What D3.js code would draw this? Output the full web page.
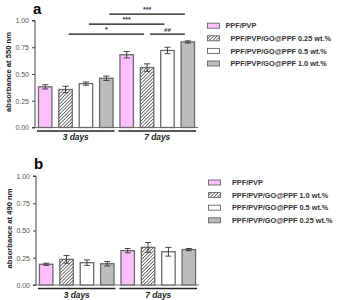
<!DOCTYPE html>
<html>
<head>
<meta charset="utf-8">
<script src="https://cdn.jsdelivr.net/npm/d3@7"></script>
<style>
  body { margin: 0; background: #fff; }
  svg { display: block; font-family: "Liberation Sans", Arial, sans-serif; }
</style>
</head>
<body>
<div id="chart"></div>
<script>
var days = ["3 days", "7 days"];
var yTicks = [0, 0.25, 0.5, 0.75, 1.0];

// panel a
var seriesA = ["PPF/PVP", "PPF/PVP/GO@PPF 0.25 wt.%", "PPF/PVP/GO@PPF 0.5 wt.%", "PPF/PVP/GO@PPF 1.0 wt.%"];
var meansA = [[0.38, 0.355, 0.41, 0.46], [0.68, 0.56, 0.72, 0.80]];
var errA = [[0.02, 0.03, 0.015, 0.02], [0.03, 0.035, 0.03, 0.01]];
// significance brackets: [day, series] -> [day, series]
var sigFrom = [[0, 1], [0, 2], [0, 3], [1, 1]];
var sigTo = [[1, 1], [1, 2], [1, 3], [1, 3]];
var sigLabel = ["*", "***", "***", "##"];
var sigRow = [0, 1, 2, 0];

// panel b
var seriesB = ["PPF/PVP", "PPF/PVP/GO@PPF 1.0 wt.%", "PPF/PVP/GO@PPF 0.5 wt.%", "PPF/PVP/GO@PPF 0.25 wt.%"];
var meansB = [[0.19, 0.235, 0.205, 0.195], [0.315, 0.345, 0.305, 0.325]];
var errB = [[0.01, 0.035, 0.025, 0.02], [0.02, 0.045, 0.04, 0.01]];

var fills = ["#ffbfff", "url(#hatch)", "#ffffff", "#bcbcbc"];

var svg = d3.select("#chart").append("svg")
  .attr("width", 340)
  .attr("height", 300);

var defs = svg.append("defs");
var pat = defs.append("pattern")
  .attr("id", "hatch")
  .attr("patternUnits", "userSpaceOnUse")
  .attr("width", 2.4)
  .attr("height", 2.4)
  .attr("patternTransform", "rotate(45)");
pat.append("rect").attr("width", 2.4).attr("height", 2.4).attr("fill", "#fff");
pat.append("line")
  .attr("x1", 0).attr("y1", 0).attr("x2", 0).attr("y2", 2.4)
  .attr("stroke", "#222").attr("stroke-width", 1.2);

function panel(opt) {
  var g = svg.append("g");

  var y = d3.scaleLinear().domain([0, 1]).range([opt.y0, opt.y1]);
  var x0 = d3.scaleBand().domain(days).range([opt.x0, opt.x1]).padding(0);
  var x1 = d3.scaleBand().domain(d3.range(4))
    .range([0, x0.bandwidth()])
    .paddingInner(0.34)
    .paddingOuter(0.17);

  // y axis
  var yAxis = d3.axisLeft(y)
    .tickValues(yTicks)
    .tickFormat(d3.format(".2f"))
    .tickSize(3)
    .tickPadding(3);
  var ag = g.append("g")
    .attr("transform", "translate(" + opt.x0 + ",0)")
    .call(yAxis);
  ag.select(".domain").attr("stroke", "#444").attr("d", "M-3," + y(1) + "H0V" + y(0) + "H-3");
  ag.selectAll(".tick line").attr("stroke", "#444");
  ag.selectAll(".tick text")
    .style("font-size", "7px")
    .style("font-family", "'Liberation Sans', Arial, sans-serif")
    .attr("fill", "#555");

  // y title
  g.append("text")
    .attr("transform", "translate(" + (opt.x0 - 24) + "," + ((y(0) + y(1)) / 2 - 2) + ") rotate(-90)")
    .attr("text-anchor", "middle")
    .style("font-size", "7.6px")
    .style("font-weight", "bold")
    .attr("fill", "#222")
    .text(opt.ytitle);

  // panel letter
  g.append("text")
    .attr("x", opt.x0 - 2)
    .attr("y", y(1) - 6.7)
    .style("font-size", "15px")
    .style("font-weight", "bold")
    .text(opt.letter);

  // x baseline
  g.append("line")
    .attr("x1", opt.x0).attr("x2", opt.x1)
    .attr("y1", y(0)).attr("y2", y(0))
    .attr("stroke", "#777").attr("stroke-width", 1);

  // bars
  var data = [];
  days.forEach(function(day, di) {
    for (var si = 0; si < 4; si++) {
      data.push({ day: day, di: di, si: si, v: opt.means[di][si], e: opt.errs[di][si] });
    }
  });

  g.selectAll("rect.bar")
    .data(data)
    .enter()
    .append("rect")
    .attr("class", "bar")
    .attr("x", function(d) { return x0(d.day) + x1(d.si); })
    .attr("y", function(d) { return y(d.v); })
    .attr("width", x1.bandwidth())
    .attr("height", function(d) { return y(0) - y(d.v); })
    .attr("fill", function(d) { return fills[d.si]; })
    .attr("stroke", "#6a6a6a")
    .attr("stroke-width", 1.3);

  // error bars
  var eb = g.selectAll("g.err")
    .data(data)
    .enter()
    .append("g")
    .attr("class", "err")
    .attr("transform", function(d) {
      return "translate(" + (x0(d.day) + x1(d.si) + x1.bandwidth() / 2) + ",0)";
    });
  eb.append("line")
    .attr("y1", function(d) { return y(d.v + d.e); })
    .attr("y2", function(d) { return y(d.v - d.e); })
    .attr("stroke", "#333").attr("stroke-width", 0.9);
  eb.append("line")
    .attr("x1", -3).attr("x2", 3)
    .attr("y1", function(d) { return y(d.v + d.e); })
    .attr("y2", function(d) { return y(d.v + d.e); })
    .attr("stroke", "#333").attr("stroke-width", 0.9);
  eb.append("line")
    .attr("x1", -3).attr("x2", 3)
    .attr("y1", function(d) { return y(d.v - d.e); })
    .attr("y2", function(d) { return y(d.v - d.e); })
    .attr("stroke", "#333").attr("stroke-width", 0.9);

  // group underlines + labels
  var gl = g.selectAll("g.grp")
    .data(days)
    .enter()
    .append("g")
    .attr("class", "grp");
  gl.append("line")
    .attr("x1", function(d) { return x0(d) + 2; })
    .attr("x2", function(d) { return x0(d) + x0.bandwidth() - 2; })
    .attr("y1", y(0) + 3.5).attr("y2", y(0) + 3.5)
    .attr("stroke", "#222").attr("stroke-width", 1.4);
  gl.append("text")
    .attr("x", function(d) { return x0(d) + x0.bandwidth() / 2; })
    .attr("y", y(0) + 12.5)
    .attr("text-anchor", "middle")
    .style("font-size", "8.4px")
    .style("font-weight", "bold")
    .style("font-style", "italic")
    .attr("fill", "#222")
    .text(function(d) { return d; });

  // significance brackets
  if (opt.sig) {
    var cx = function(p) { return x0(days[p[0]]) + x1(p[1]) + x1.bandwidth() / 2; };
    sigLabel.forEach(function(lab, i) {
      var yy = y(0.873 + sigRow[i] * 0.093);
      g.append("line")
        .attr("x1", cx(sigFrom[i]) + 3)
        .attr("x2", cx(sigTo[i]) - 3)
        .attr("y1", yy).attr("y2", yy)
        .attr("stroke", "#111").attr("stroke-width", 1.3);
      g.append("text")
        .attr("x", (cx(sigFrom[i]) + cx(sigTo[i])) / 2)
        .attr("y", yy - 2)
        .attr("text-anchor", "middle")
        .style("font-size", lab == "##" ? "6px" : "7px")
        .style("font-weight", "bold")
        .style("font-style", lab == "##" ? "italic" : "normal")
        .attr("fill", "#333")
        .text(lab);
    });
  }

  // legend
  var lg = g.selectAll("g.leg")
    .data(opt.series)
    .enter()
    .append("g")
    .attr("class", "leg")
    .attr("transform", function(d, i) {
      return "translate(" + opt.lx + "," + (opt.ly + i * 12.6) + ")";
    });
  lg.append("rect")
    .attr("x", 0).attr("y", -2.5)
    .attr("width", 12).attr("height", 5)
    .attr("fill", function(d, i) { return fills[i]; })
    .attr("stroke", "#666").attr("stroke-width", 0.9);
  lg.append("text")
    .attr("x", function(d, i) { return opt.tx[i]; })
    .attr("y", 2.6)
    .style("font-size", "7.3px")
    .style("font-weight", "bold")
    .attr("fill", "#333")
    .text(function(d) { return d; });
}

panel({
  letter: "a", ytitle: "absorbance at 550 nm",
  x0: 35, x1: 198, y0: 127.5, y1: 20.5,
  means: meansA, errs: errA, series: seriesA, sig: true,
  lx: 207.5, ly: 25.7, tx: [18, 23, 23, 23]
});

panel({
  letter: "b", ytitle: "absorbance at 490 nm",
  x0: 36, x1: 199, y0: 285, y1: 176,
  means: meansB, errs: errB, series: seriesB, sig: false,
  lx: 208.5, ly: 182.5, tx: [23.5, 23.5, 23.5, 23.5]
});
</script>
</body>
</html>
